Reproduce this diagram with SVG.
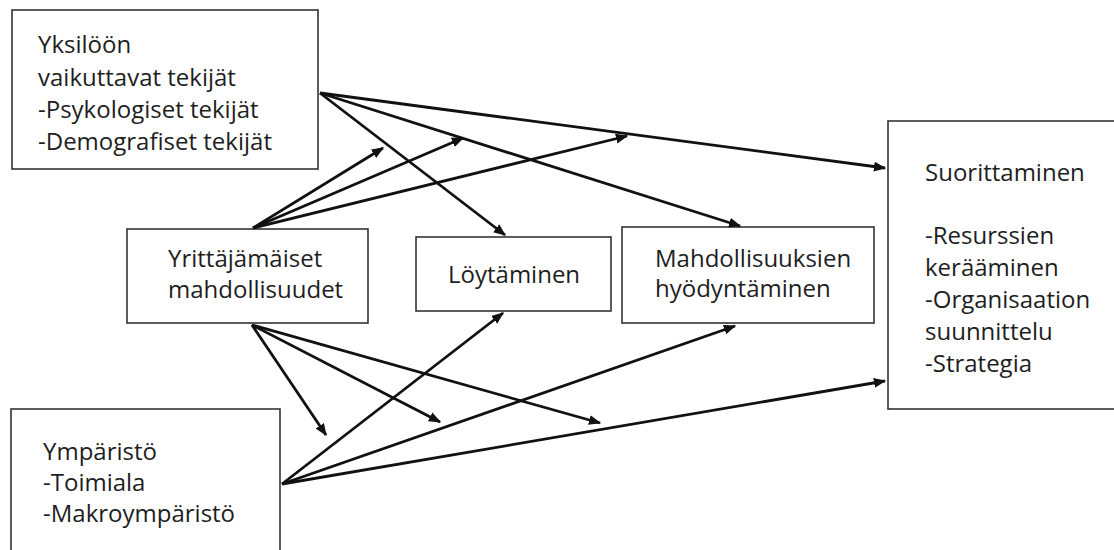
<svg xmlns="http://www.w3.org/2000/svg" width="1114" height="550" viewBox="0 0 1114 550">
<defs>
<style>
.box{fill:#fff;stroke:#333;stroke-width:1.6}
.t{font-family:"Open Sans","Noto Sans",sans-serif;font-size:24px;fill:#1e1e1e}
.c{stroke:#111;stroke-width:2.8;fill:none;marker-end:url(#ah)}
</style>
<marker id="ah" viewBox="0 0 10 8" refX="9" refY="4" markerWidth="4.4" markerHeight="3.6" orient="auto" markerUnits="strokeWidth">
<path d="M0,0 L10,4 L0,8 Z" fill="#111"/>
</marker>
</defs>
<rect width="1114" height="550" fill="#fff"/>
<g id="yksiloon">
<rect class="box" x="12" y="10" width="306" height="159"/>
<text class="t" x="38" y="53">Yksilöön</text>
<text class="t" x="38" y="86">vaikuttavat tekijät</text>
<text class="t" x="38" y="118">-Psykologiset tekijät</text>
<text class="t" x="38" y="150">-Demografiset tekijät</text>
</g>
<g id="yrittajamaiset">
<rect class="box" x="127" y="229" width="241" height="94"/>
<text class="t" x="168" y="267">Yrittäjämäiset</text>
<text class="t" x="168" y="298">mahdollisuudet</text>
</g>
<g id="loytaminen">
<rect class="box" x="416" y="237" width="195" height="74"/>
<text class="t" x="448" y="283">Löytäminen</text>
</g>
<g id="hyodyntaminen">
<rect class="box" x="622" y="227" width="252" height="96"/>
<text class="t" x="655" y="267">Mahdollisuuksien</text>
<text class="t" x="655" y="297">hyödyntäminen</text>
</g>
<g id="suorittaminen">
<rect class="box" x="888" y="121" width="240" height="288"/>
<text class="t" x="925" y="181">Suorittaminen</text>
<text class="t" x="925" y="244">-Resurssien</text>
<text class="t" x="925" y="276">kerääminen</text>
<text class="t" x="925" y="308">-Organisaation</text>
<text class="t" x="925" y="340">suunnittelu</text>
<text class="t" x="925" y="372">-Strategia</text>
</g>
<g id="ymparisto">
<rect class="box" x="11" y="409" width="269" height="160"/>
<text class="t" x="43" y="460">Ympäristö</text>
<text class="t" x="43" y="491">-Toimiala</text>
<text class="t" x="43" y="522">-Makroympäristö</text>
</g>
<g id="connectors">
<line class="c" x1="320" y1="93" x2="885" y2="168"/>
<line class="c" x1="320" y1="93" x2="740" y2="226"/>
<line class="c" x1="320" y1="93" x2="505" y2="235"/>
<line class="c" x1="253" y1="228" x2="383" y2="148"/>
<line class="c" x1="253" y1="228" x2="463" y2="138"/>
<line class="c" x1="253" y1="228" x2="627" y2="136"/>
<line class="c" x1="252" y1="325" x2="326" y2="435"/>
<line class="c" x1="252" y1="325" x2="440" y2="422"/>
<line class="c" x1="252" y1="325" x2="600" y2="423"/>
<line class="c" x1="282" y1="484" x2="503" y2="313"/>
<line class="c" x1="282" y1="484" x2="735" y2="326"/>
<line class="c" x1="282" y1="484" x2="885" y2="381"/>
</g>
</svg>
